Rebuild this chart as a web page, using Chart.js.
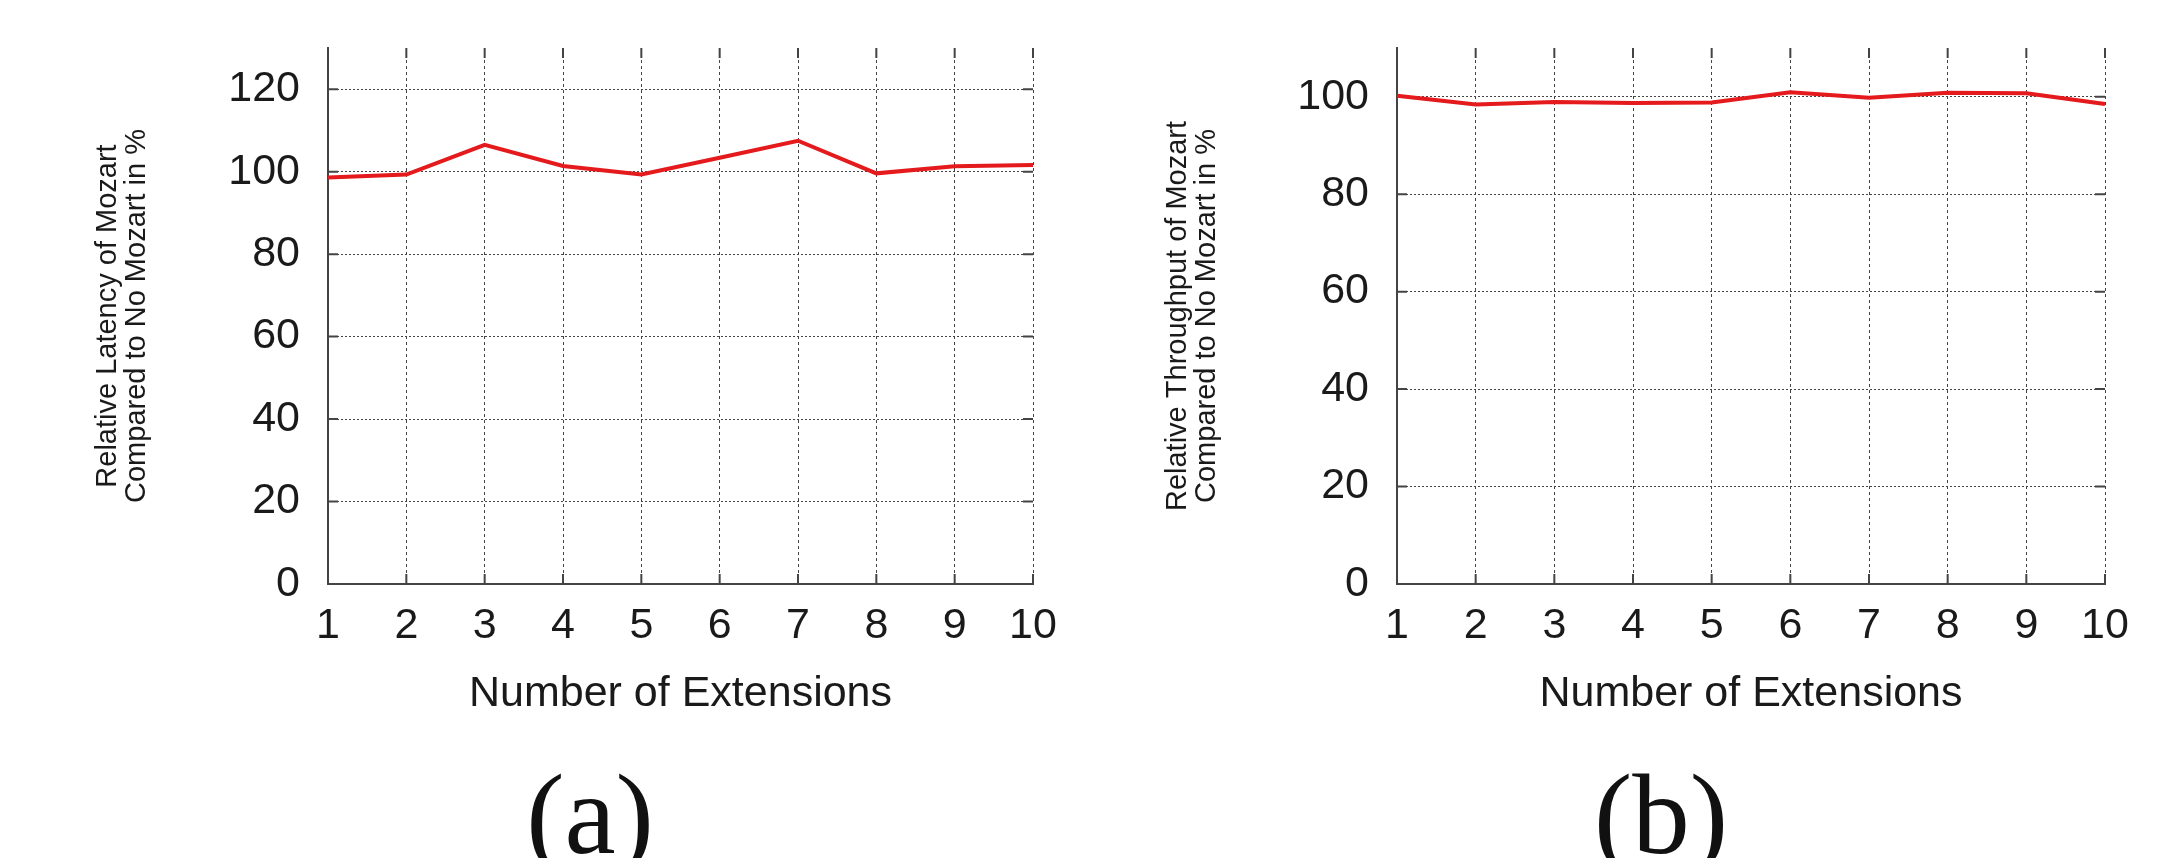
<!DOCTYPE html>
<html>
<head>
<meta charset="utf-8">
<title>Mozart overhead</title>
<script src="https://cdn.jsdelivr.net/npm/chart.js@4.4.1/dist/chart.umd.min.js"></script>
<style>
    html, body { margin: 0; padding: 0; background: #fff; }
    body { width: 2159px; height: 858px; position: relative; overflow: hidden; }
    .panel { position: absolute; top: 0; }
    #panelA { left: 90px; }
    #panelB { left: 1163px; }
</style>
</head>
<body>
<div class="panel" id="panelA"><canvas id="latencyChart" width="1000" height="858"></canvas></div>
<div class="panel" id="panelB"><canvas id="throughputChart" width="996" height="858"></canvas></div>

<script>
// ===== DATA =====
const extensions = ['1', '2', '3', '4', '5', '6', '7', '8', '9', '10'];
const latency = [98.6, 99.3, 106.5, 101.4, 99.3, 103.4, 107.5, 99.6, 101.3, 101.6];
const throughput = [100.2, 98.4, 98.9, 98.7, 98.8, 100.9, 99.8, 100.8, 100.7, 98.5];

const latencyMax = 130;
const throughputMax = 110;
const yStep = 20;

const latencyTitle = ['Relative Latency of Mozart', 'Compared to No Mozart in %'];
const throughputTitle = ['Relative Throughput of Mozart', 'Compared to No Mozart in %'];
const xTitle = 'Number of Extensions';

// ===== DEFAULTS =====
Chart.defaults.font.family = '"Liberation Sans", Arial, Helvetica, sans-serif';
Chart.defaults.color = '#1a1a1a';

const axisColor = '#444';
const lineRed = '#e41a1c';

// gnuplot style: small inward tics on every side of the box
const mirrorTicks = {
    id: 'mirrorTicks',
    beforeDatasetsDraw(chart) {
        const { ctx, chartArea: a, scales: { x, y } } = chart;
        const len = 10;
        ctx.save();
        ctx.strokeStyle = axisColor;
        ctx.lineWidth = 2;
        ctx.beginPath();
        x.ticks.forEach((t, i) => {
            const px = x.getPixelForTick(i);
            ctx.moveTo(px, a.top);
            ctx.lineTo(px, a.top + len);
            ctx.moveTo(px, a.bottom);
            ctx.lineTo(px, a.bottom - len);
        });
        y.ticks.forEach((t, i) => {
            const py = y.getPixelForTick(i);
            ctx.moveTo(a.right, py);
            ctx.lineTo(a.right - len, py);
            ctx.moveTo(a.left, py);
            ctx.lineTo(a.left + len, py);
        });
        ctx.stroke();
        ctx.restore();
    }
};

function makeChart(id, values, yMax, yTitle, panel, box) {
    const ctx = document.getElementById(id);
    return new Chart(ctx, {
        type: 'line',
        data: {
            labels: extensions,
            datasets: [{
                data: values,
                borderColor: lineRed,
                borderWidth: 4,
                pointRadius: 0,
                tension: 0,
                fill: false
            }]
        },
        options: {
            responsive: false,
            animation: false,
            layout: { padding: { left: 0, top: 48, right: 0, bottom: 0 } },
            plugins: {
                legend: { display: false },
                tooltip: { enabled: false },
                title: {
                    display: true,
                    text: panel,
                    position: 'bottom',
                    color: '#111',
                    font: { family: '"Liberation Serif", "Times New Roman", serif', size: 115, weight: 'normal', lineHeight: 0.6 },
                    padding: { top: 64.5, bottom: 0.5 }
                }
            },
            scales: {
                x: {
                    grid: { color: axisColor, lineWidth: 1, drawTicks: false },
                    border: { color: axisColor, width: 2, dash: [3, 3] },
                    ticks: { padding: 16, font: { size: 43 }, maxRotation: 0, autoSkip: false },
                    title: {
                        display: true,
                        text: xTitle,
                        font: { size: 43, lineHeight: 1.2 },
                        padding: { top: 0, bottom: 4 }
                    },
                    afterFit: s => { s.height = 140; }
                },
                y: {
                    min: 0,
                    max: yMax,
                    grid: { color: axisColor, lineWidth: 1, tickLength: 25, tickColor: 'rgba(0,0,0,0)' },
                    border: { color: axisColor, width: 2, dash: [2, 2] },
                    ticks: { stepSize: yStep, includeBounds: false, padding: 3, font: { size: 43 } },
                    title: {
                        display: true,
                        text: yTitle,
                        font: { size: 29, lineHeight: 1.0 },
                        padding: { top: box.titlePad, bottom: 0 }
                    },
                    afterFit: s => { s.width = box.axisWidth; }
                },
                // empty strip on the right so the panel label stays centred on the whole canvas
                gap: {
                    type: 'linear',
                    position: 'right',
                    grid: { display: false },
                    border: { display: false },
                    ticks: { display: false },
                    afterFit: s => { s.width = box.gapRight; }
                }
            }
        },
        plugins: [mirrorTicks]
    });
}

// ===== INIT =====
makeChart('latencyChart', latency, latencyMax, latencyTitle, '(a)',
    { axisWidth: 238, gapRight: 57, titlePad: 3.5 });
makeChart('throughputChart', throughput, throughputMax, throughputTitle, '(b)',
    { axisWidth: 234, gapRight: 54, titlePad: 0.5 });
</script>
</body>
</html>
